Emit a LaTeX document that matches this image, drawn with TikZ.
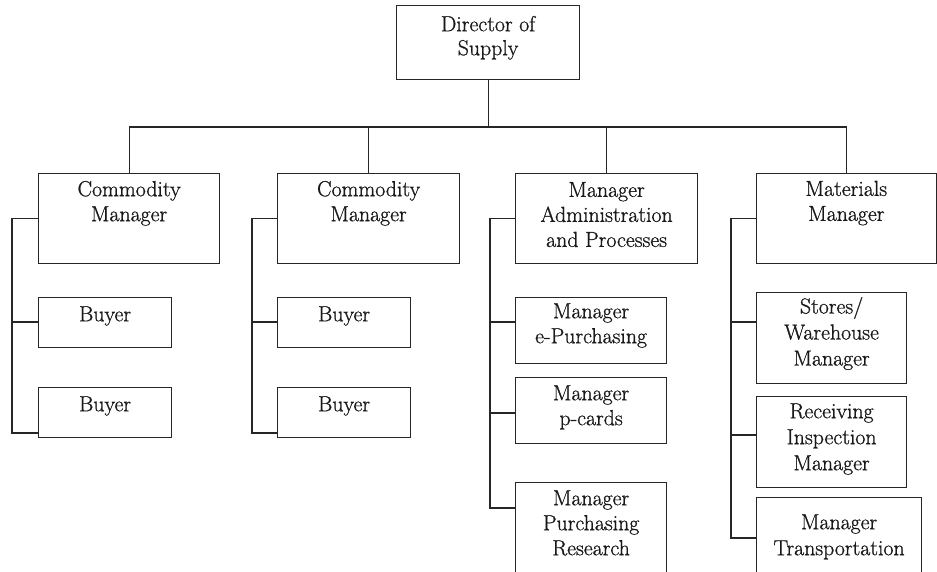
\documentclass[tikz,border=0pt]{standalone}
\usepackage{fontspec}
\setmainfont{Latin Modern Roman}
\newfontfamily\boxfont{Latin Modern Roman}[FakeBold=0.9]
% fixed height for the first text line of every box
\newcommand\firstline{\rule{0pt}{17pt}}
\begin{document}
\begin{tikzpicture}[x=1pt,y=-1pt,
  box/.style={draw=black!85, line width=1.2pt, rectangle, inner sep=0pt, anchor=north west},
  txt/.style={anchor=north, align=center, inner sep=0pt, text=black!90,
              font=\boxfont\fontsize{21.8}{25}\selectfont},
  wide/.style={font=\boxfont\fontsize{21.8}{26}\selectfont},
  link/.style={draw=black!85, line width=1.2pt}]
\useasboundingbox (0,0) rectangle (937,571);
\clip (0,0) rectangle (937,571);

% top
\node[box, minimum width=183pt, minimum height=74pt] (dir) at (396,5) {};
\node[txt, font=\boxfont\fontsize{21.8}{24}\selectfont, yshift=-9pt] (dirt) at (dir.north) {\firstline Director of\\Supply};

% second level
\node[box, minimum width=181pt, minimum height=90pt] (cm1) at (38,173) {};
\node[box, minimum width=182pt, minimum height=90pt] (cm2) at (277,173) {};
\node[box, minimum width=182pt, minimum height=90pt] (adm) at (515,173) {};
\node[box, minimum width=179.5pt, minimum height=90pt] (mm) at (756,173) {};
\node[txt, yshift=-6pt] (cm1t) at (cm1.north) {\firstline Commodity\\Manager};
\node[txt, yshift=-6pt] (cm2t) at (cm2.north) {\firstline Commodity\\Manager};
\node[txt, yshift=-6.7pt] (admt) at (adm.north) {\firstline Manager\\Administration\\and Processes};
\node[txt, yshift=-5.7pt] (mmt) at (mm.north) {\firstline Materials\\Manager};

% buyers
\node[box, minimum width=133pt, minimum height=50pt] (b11) at (38,297) {};
\node[box, minimum width=133pt, minimum height=50pt] (b12) at (38,387) {};
\node[box, minimum width=133pt, minimum height=50pt] (b21) at (277,297) {};
\node[box, minimum width=133pt, minimum height=50pt] (b22) at (277,387) {};
\node[txt, yshift=-7pt] (b11t) at (b11.north) {\firstline Buyer};
\node[txt, yshift=-7pt] (b12t) at (b12.north) {\firstline Buyer};
\node[txt, yshift=-7pt] (b21t) at (b21.north) {\firstline Buyer};
\node[txt, yshift=-7pt] (b22t) at (b22.north) {\firstline Buyer};

% administration staff
\node[box, minimum width=151pt, minimum height=66pt] (ep) at (515,297) {};
\node[box, minimum width=151pt, minimum height=66pt] (pc) at (515,377) {};
\node[box, minimum width=151pt, minimum height=110pt] (pr) at (515,482) {};
\node[txt, yshift=-4pt] (ept) at (ep.north) {\firstline Manager\\e-Purchasing};
\node[txt, yshift=-6pt] (pct) at (pc.north) {\firstline Manager\\p-cards};
\node[txt, yshift=-6pt] (prt) at (pr.north) {\firstline Manager\\Purchasing\\Research};

% materials staff
\node[box, minimum width=150pt, minimum height=91pt] (sw) at (756,292) {};
\node[box, minimum width=150pt, minimum height=91pt] (ri) at (756,396) {};
\node[box, minimum width=165pt, minimum height=110pt] (tr) at (756,497) {};
\node[txt, wide, yshift=-4.3pt] (swt) at (sw.north) {\firstline Stores/\\Warehouse\\Manager};
\node[txt, wide, yshift=-5pt] (rit) at (ri.north) {\firstline Receiving\\Inspection\\Manager};
\node[txt, wide, yshift=-15pt] (trt) at (tr.north) {\firstline Manager\\Transportation};

% bus under the director
\coordinate (busy) at (0,127);
\draw[link] (dir.south) -- (dir.south |- busy);
\draw[link] (cm1.north) |- (mm.north |- busy) -- (mm.north);
\draw[link] (cm2.north) -- (cm2.north |- busy);
\draw[link] (adm.north) -- (adm.north |- busy);

% trunk joints
\coordinate (g1a) at (12,322);  \coordinate (g1b) at (12,433);
\coordinate (g2a) at (252,322); \coordinate (g2b) at (252,433);
\coordinate (g3a) at (490,322); \coordinate (g3b) at (490,413); \coordinate (g3c) at (490,508);
\coordinate (g4a) at (731,322); \coordinate (g4b) at (731,435); \coordinate (g4c) at (731,538);

\draw[link] (cm1.west) -| (g1b) -- (g1b -| b12.west);
\draw[link] (g1a) -- (g1a -| b11.west);
\draw[link] (cm2.west) -| (g2b) -- (g2b -| b22.west);
\draw[link] (g2a) -- (g2a -| b21.west);
\draw[link] (adm.west) -| (g3c) -- (g3c -| pr.west);
\draw[link] (g3a) -- (g3a -| ep.west);
\draw[link] (g3b) -- (g3b -| pc.west);
\draw[link] (mm.west) -| (g4c) -- (g4c -| tr.west);
\draw[link] (g4a) -- (g4a -| sw.west);
\draw[link] (g4b) -- (g4b -| ri.west);
\end{tikzpicture}
\end{document}
